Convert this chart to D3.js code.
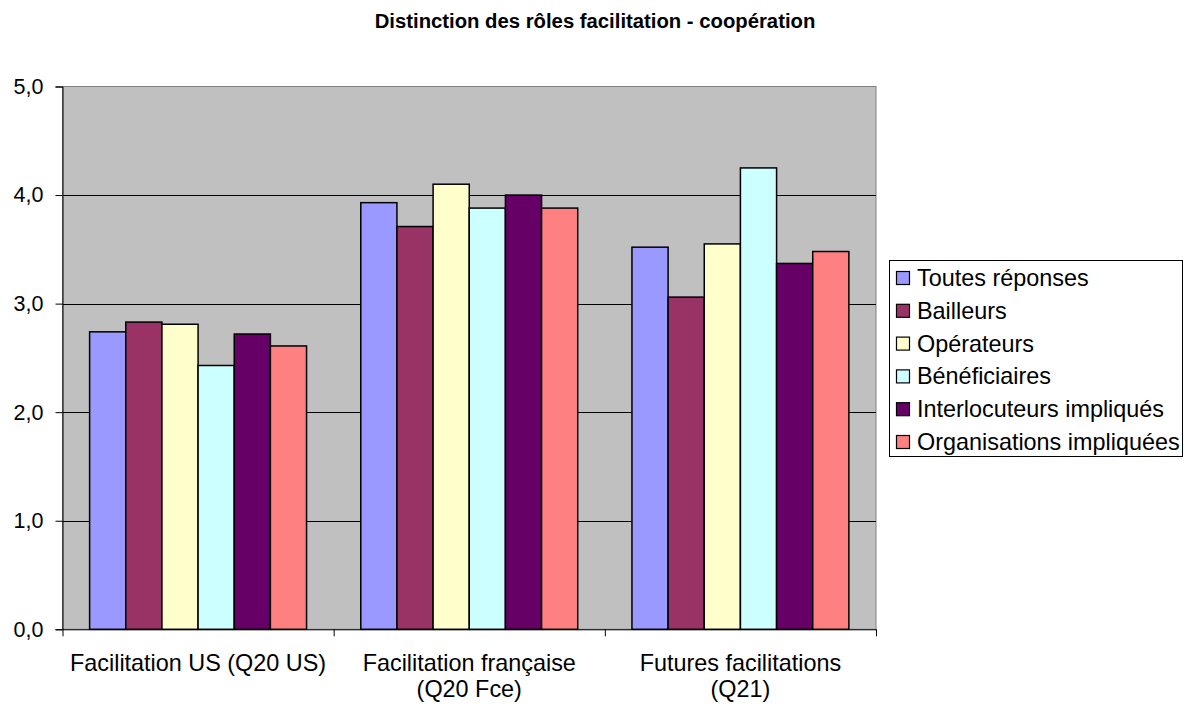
<!DOCTYPE html>
<html>
<head>
<meta charset="utf-8">
<title>Distinction des rôles</title>
<style type="text/css">
    body{ margin: 0; background: #fff; }
    text{ font-family: "Liberation Sans", Arial, sans-serif; fill: #000; }
</style>
</head>
<body>
<div id="chart"></div>
<script src="https://cdn.jsdelivr.net/npm/d3@7"></script>
<script>
    var categories = ["Facilitation US (Q20 US)", "Facilitation française|(Q20 Fce)", "Futures facilitations|(Q21)"];
    var series = ["Toutes réponses", "Bailleurs", "Opérateurs", "Bénéficiaires", "Interlocuteurs impliqués", "Organisations impliquées"];
    var colors = ["#9999FF", "#993366", "#FFFFCC", "#CCFFFF", "#660066", "#FF8080"];
    // one array per series, values for the three categories
    var toutes = [2.74, 3.93, 3.52];
    var bailleurs = [2.83, 3.71, 3.06];
    var operateurs = [2.81, 4.10, 3.55];
    var beneficiaires = [2.43, 3.88, 4.25];
    var interlocuteurs = [2.72, 4.00, 3.37];
    var organisations = [2.61, 3.88, 3.48];
    var yTicks = [0, 1, 2, 3, 4, 5];

    var values = [toutes, bailleurs, operateurs, beneficiaires, interlocuteurs, organisations];

    var width = 1191, height = 706;
    var plot = {left: 62.5, right: 876, top: 86.5, bottom: 629.3};

    var svg = d3.select("#chart").append("svg")
        .attr("width", width)
        .attr("height", height);

    var x0 = d3.scaleBand().domain(d3.range(categories.length))
        .range([plot.left, plot.right]).padding(0);
    var x1 = d3.scaleBand().domain(d3.range(series.length))
        .range([0, x0.bandwidth()]).paddingInner(0).paddingOuter(0.75);
    var y = d3.scaleLinear().domain([0, 5]).range([plot.bottom, plot.top]);

    // title
    svg.append("text")
        .attr("x", 595).attr("y", 28)
        .attr("text-anchor", "middle")
        .style("font-size", "20.3px").style("font-weight", "bold")
        .text("Distinction des rôles facilitation - coopération");

    // plot background
    svg.append("rect")
        .attr("x", plot.left).attr("y", plot.top)
        .attr("width", plot.right - plot.left).attr("height", plot.bottom - plot.top)
        .attr("fill", "#C0C0C0").attr("stroke", "#808080").attr("stroke-width", 1);

    // gridlines
    svg.append("g").selectAll("line")
        .data(yTicks.filter(d => d > 0 && d < 5))
        .enter().append("line")
            .attr("x1", plot.left).attr("x2", plot.right)
            .attr("y1", d => Math.round(y(d)) + 0.5).attr("y2", d => Math.round(y(d)) + 0.5)
            .attr("stroke", "#000").attr("stroke-width", 1);

    // bars
    var groups = svg.append("g").selectAll("g")
        .data(categories)
        .enter().append("g")
            .attr("transform", (d, i) => "translate(" + x0(i) + ",0)");

    groups.selectAll("rect")
        .data((d, i) => values.map((s, j) => ({s: j, v: s[i]})))
        .enter().append("rect")
            .attr("x", d => x1(d.s))
            .attr("y", d => y(d.v))
            .attr("width", x1.bandwidth())
            .attr("height", d => y(0) - y(d.v))
            .attr("fill", d => colors[d.s])
            .attr("stroke", "#000").attr("stroke-width", 1.5);

    // y axis
    var yAxis = d3.axisLeft(y).tickValues(yTicks).tickSize(7).tickPadding(12)
        .tickFormat(d => d3.format(".1f")(d).replace(".", ","));
    var gy = svg.append("g")
        .attr("transform", "translate(" + plot.left + ",0)")
        .call(yAxis);
    gy.selectAll("text").style("font-size", "21.5px");
    gy.selectAll("line, path").attr("stroke", "#000");

    // x axis: ticks on category boundaries
    var xb = d3.scaleLinear().domain([0, categories.length]).range([plot.left, plot.right]);
    var gx = svg.append("g")
        .attr("transform", "translate(0," + plot.bottom + ")")
        .call(d3.axisBottom(xb).tickValues(d3.range(categories.length + 1)).tickSize(7).tickSizeOuter(0).tickFormat(""));
    gx.selectAll("line, path").attr("stroke", "#000");

    // category labels
    svg.append("g").selectAll("text")
        .data(categories)
        .enter().append("text")
            .attr("x", (d, i) => x0(i) + x0.bandwidth() / 2)
            .attr("y", 671)
            .attr("text-anchor", "middle")
            .style("font-size", "23.4px")
            .each(function (d) {
                var lines = d.split("|");
                d3.select(this).selectAll("tspan")
                    .data(lines)
                    .enter().append("tspan")
                        .attr("x", d3.select(this).attr("x"))
                        .attr("dy", (l, k) => k === 0 ? 0 : 26)
                        .text(l => l);
            });

    // legend
    var legend = svg.append("g").attr("transform", "translate(889,260)");
    legend.append("rect")
        .attr("x", 0.5).attr("y", 0.5)
        .attr("width", 293).attr("height", 196)
        .attr("fill", "#fff").attr("stroke", "#000").attr("stroke-width", 1);

    var items = legend.selectAll("g.item")
        .data(series)
        .enter().append("g")
            .attr("class", "item")
            .attr("transform", (d, i) => "translate(0," + (17 + i * 32.8) + ")");
    items.append("rect")
        .attr("x", 7.5).attr("y", -5.5)
        .attr("width", 13).attr("height", 13)
        .attr("fill", (d, i) => colors[i])
        .attr("stroke", "#000").attr("stroke-width", 1.2);
    items.append("text")
        .attr("x", 28).attr("y", 9)
        .style("font-size", "23.4px")
        .text(d => d);
</script>
</body>
</html>
